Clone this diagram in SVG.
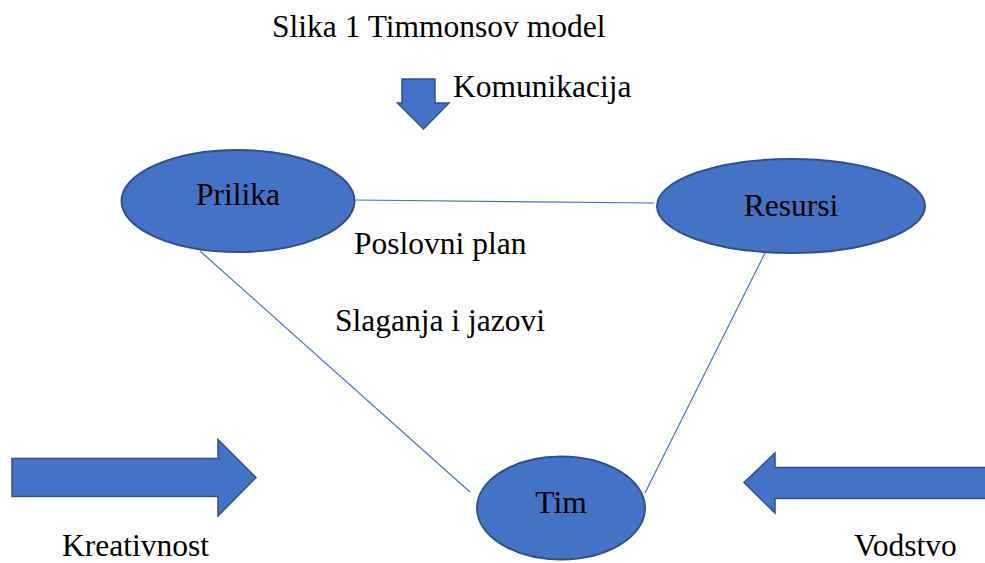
<svg xmlns="http://www.w3.org/2000/svg" width="985" height="563" viewBox="0 0 985 563">
<style>
.node{fill:#4472C4;stroke:#2F528F;stroke-width:2}
.arrow{fill:#4472C4;stroke:#2F528F;stroke-width:1.5}
.conn{stroke:#4472C4;stroke-width:1.2;fill:none}
text{font-family:"Liberation Serif","Times New Roman",serif;font-size:31.5px;fill:#000}
</style>
<rect width="985" height="563" fill="#fff"/>
<text x="272" y="37">Slika 1 Timmonsov model</text>
<g id="arrow-komunikacija">
<polygon class="arrow" points="402,79 435,79 435,103 449,103 423.5,129 397.5,103 402,103"/>
<text x="453" y="97">Komunikacija</text>
</g>
<g id="connectors">
<line class="conn" x1="354" y1="200" x2="654" y2="203"/>
<line class="conn" x1="200" y1="251" x2="470" y2="492"/>
<line class="conn" x1="765" y1="253" x2="645" y2="493"/>
</g>
<g id="prilika">
<ellipse class="node" cx="238" cy="201" rx="116.5" ry="51"/>
<text x="238" y="205" text-anchor="middle">Prilika</text>
</g>
<g id="resursi">
<ellipse class="node" cx="791" cy="206" rx="134" ry="47"/>
<text x="791" y="216" text-anchor="middle">Resursi</text>
</g>
<g id="tim">
<ellipse class="node" cx="561" cy="508" rx="84" ry="51.5"/>
<text x="561" y="513" text-anchor="middle">Tim</text>
</g>
<text x="354" y="254">Poslovni plan</text>
<text x="335" y="331">Slaganja i jazovi</text>
<g id="arrow-kreativnost">
<polygon class="arrow" points="12,458.5 218,458.5 218,439.5 256,477.5 218,516 218,496.5 12,496.5"/>
<text x="62" y="556">Kreativnost</text>
</g>
<g id="arrow-vodstvo">
<polygon class="arrow" points="990,467.5 775,467.5 775,453 744,482.5 775,513 775,498.5 990,498.5"/>
<text x="854" y="556">Vodstvo</text>
</g>
</svg>
